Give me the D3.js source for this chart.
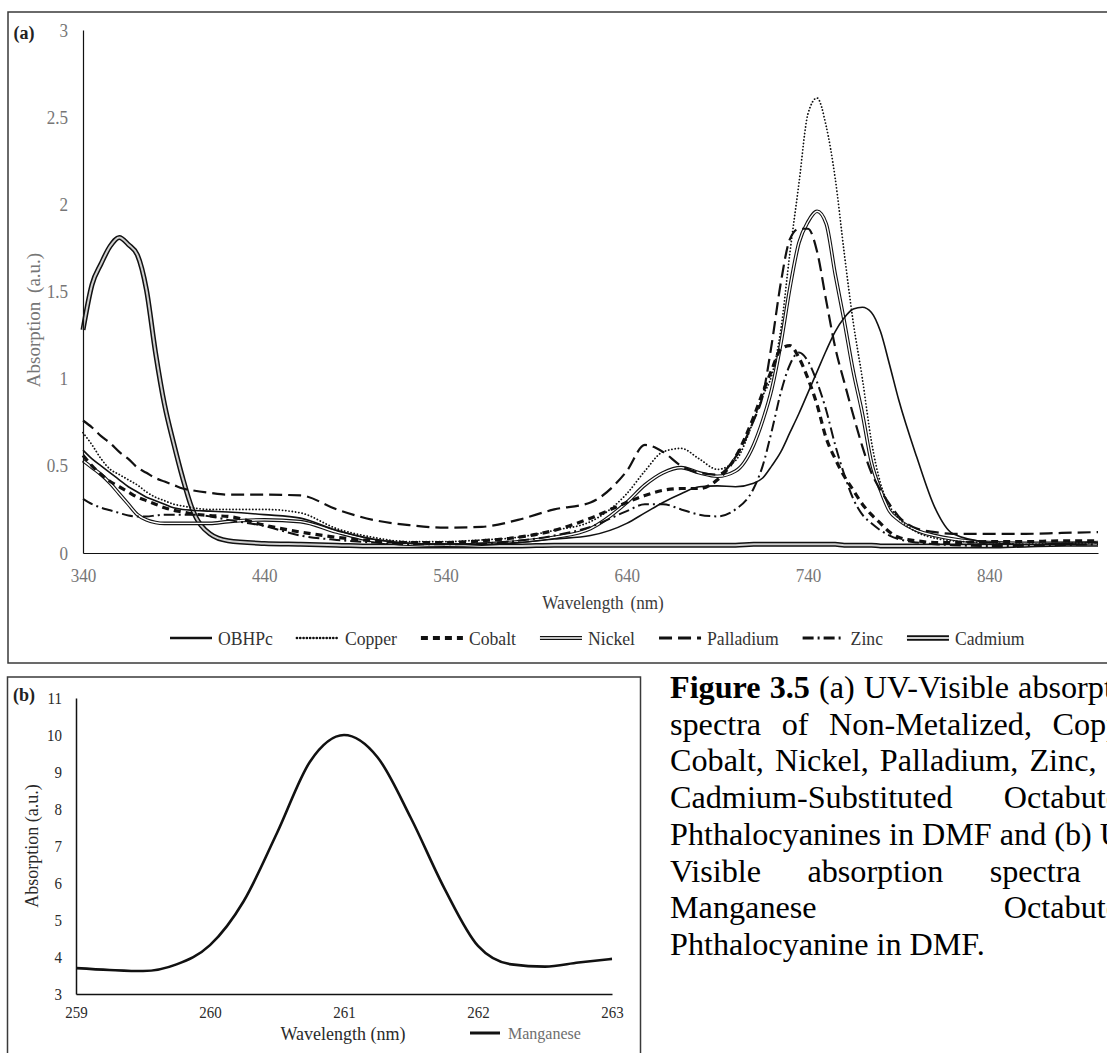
<!DOCTYPE html>
<html lang="en">
<head>
<meta charset="UTF-8">
<title>Figure 3.5 - UV-Visible absorption spectra</title>
<script src="https://d3js.org/d3.v7.min.js"></script>
<style>
  body { margin: 0; background: #fff; }
  svg { display: block; font-family: "Liberation Serif", "Times New Roman", serif; }
</style>
</head>
<body>
<svg id="fig" width="1107" height="1053"></svg>
<script>
// ---- panel (a): absorption of the octabutoxy phthalocyanines ----
const wavelengths = [340, 345, 350, 355, 360, 365, 370, 375, 380, 385, 390, 395, 400, 410, 420, 440, 460, 480, 500, 520,
                     540, 560, 580, 600, 620, 640, 650, 660, 670, 680, 690, 700, 710, 715, 720, 725, 730, 735, 740, 745,
                     750, 755, 760, 765, 770, 775, 780, 785, 790, 800, 810, 820, 840, 860, 880, 900];

const obhpc     = [0.59, 0.54, 0.50, 0.46, 0.42, 0.38, 0.35, 0.32, 0.30, 0.28, 0.26, 0.25, 0.245, 0.24, 0.235, 0.22, 0.20, 0.13, 0.08, 0.055,
                   0.05, 0.05, 0.06, 0.08, 0.10, 0.17, 0.23, 0.29, 0.34, 0.38, 0.385, 0.38, 0.40, 0.43, 0.50, 0.58, 0.69, 0.80, 0.92, 1.04,
                   1.16, 1.27, 1.35, 1.40, 1.41, 1.38, 1.27, 1.08, 0.88, 0.55, 0.26, 0.11, 0.06, 0.05, 0.055, 0.06];
const copper    = [0.69, 0.62, 0.54, 0.48, 0.45, 0.42, 0.39, 0.35, 0.32, 0.30, 0.28, 0.27, 0.26, 0.25, 0.25, 0.25, 0.23, 0.14, 0.09, 0.065,
                   0.065, 0.075, 0.09, 0.13, 0.18, 0.34, 0.47, 0.58, 0.60, 0.54, 0.48, 0.53, 0.76, 0.90, 1.02, 1.28, 1.72, 2.12, 2.52, 2.61,
                   2.45, 2.15, 1.72, 1.32, 1.00, 0.64, 0.40, 0.27, 0.20, 0.12, 0.085, 0.07, 0.06, 0.05, 0.055, 0.06];
const cobalt    = [0.56, 0.50, 0.45, 0.41, 0.38, 0.35, 0.32, 0.30, 0.28, 0.26, 0.245, 0.235, 0.225, 0.215, 0.21, 0.16, 0.12, 0.09, 0.07, 0.06,
                   0.06, 0.07, 0.09, 0.13, 0.20, 0.29, 0.33, 0.36, 0.37, 0.37, 0.42, 0.55, 0.78, 0.92, 1.05, 1.17, 1.19, 1.12, 1.00, 0.85,
                   0.66, 0.54, 0.44, 0.36, 0.28, 0.22, 0.17, 0.12, 0.09, 0.07, 0.06, 0.06, 0.065, 0.065, 0.07, 0.07];
const nickel    = [0.53, 0.49, 0.45, 0.40, 0.34, 0.28, 0.22, 0.19, 0.175, 0.17, 0.17, 0.17, 0.17, 0.17, 0.18, 0.19, 0.18, 0.12, 0.07, 0.05,
                   0.045, 0.05, 0.065, 0.09, 0.14, 0.29, 0.39, 0.46, 0.49, 0.46, 0.44, 0.47, 0.62, 0.76, 0.94, 1.20, 1.52, 1.78, 1.90, 1.96,
                   1.89, 1.60, 1.33, 1.04, 0.80, 0.52, 0.36, 0.24, 0.19, 0.13, 0.10, 0.08, 0.06, 0.055, 0.055, 0.06];
const palladium = [0.76, 0.72, 0.67, 0.63, 0.58, 0.54, 0.49, 0.46, 0.43, 0.41, 0.39, 0.37, 0.36, 0.345, 0.335, 0.335, 0.33, 0.25, 0.19, 0.16,
                   0.145, 0.15, 0.19, 0.25, 0.29, 0.47, 0.62, 0.58, 0.50, 0.46, 0.45, 0.55, 0.76, 0.90, 1.20, 1.55, 1.80, 1.86, 1.86, 1.73,
                   1.45, 1.18, 0.98, 0.79, 0.61, 0.46, 0.36, 0.28, 0.21, 0.14, 0.12, 0.11, 0.11, 0.11, 0.115, 0.12];
const zinc      = [0.31, 0.28, 0.26, 0.245, 0.23, 0.215, 0.21, 0.21, 0.215, 0.22, 0.22, 0.22, 0.22, 0.21, 0.19, 0.155, 0.10, 0.075, 0.06, 0.05,
                   0.05, 0.055, 0.07, 0.10, 0.15, 0.24, 0.28, 0.28, 0.25, 0.22, 0.21, 0.25, 0.37, 0.50, 0.70, 0.92, 1.08, 1.15, 1.10, 0.98,
                   0.82, 0.62, 0.45, 0.31, 0.22, 0.17, 0.13, 0.10, 0.08, 0.06, 0.05, 0.045, 0.04, 0.04, 0.045, 0.05];
const cadmium   = [1.28, 1.54, 1.66, 1.76, 1.81, 1.77, 1.71, 1.51, 1.15, 0.85, 0.63, 0.43, 0.26, 0.11, 0.07, 0.055, 0.05, 0.045, 0.04, 0.04,
                   0.04, 0.04, 0.04, 0.045, 0.045, 0.045, 0.045, 0.045, 0.045, 0.045, 0.045, 0.045, 0.05, 0.05, 0.05, 0.05, 0.05, 0.05, 0.05, 0.05,
                   0.05, 0.05, 0.045, 0.045, 0.045, 0.045, 0.04, 0.04, 0.04, 0.04, 0.04, 0.04, 0.04, 0.045, 0.05, 0.05];

const seriesNames = ["OBHPc", "Copper", "Cobalt", "Nickel", "Palladium", "Zinc", "Cadmium"];
const seriesValues = [obhpc, copper, cobalt, nickel, palladium, zinc, cadmium];
const xTicksA = [340, 440, 540, 640, 740, 840];
const yTicksA = [0, 0.5, 1, 1.5, 2, 2.5, 3];

// ---- panel (b): manganese ----
const mnWavelengths = [259, 259.25, 259.5, 259.75, 260, 260.25, 260.5, 260.75, 261, 261.25, 261.5, 261.75, 262, 262.25, 262.5, 262.75, 263];
const manganese     = [3.70, 3.65, 3.62, 3.80, 4.32, 5.50, 7.35, 9.30, 10.0, 9.40, 7.75, 5.85, 4.30, 3.80, 3.74, 3.85, 3.95];
const xTicksB = [259, 260, 261, 262, 263];
const yTicksB = [3, 4, 5, 6, 7, 8, 9, 10, 11];

// ---- caption ----
const captionLines = [
  "Figure 3.5 (a) UV-Visible absorption",
  "spectra of Non-Metalized, Copper,",
  "Cobalt, Nickel, Palladium, Zinc, and",
  "Cadmium-Substituted Octabutoxy",
  "Phthalocyanines in DMF and (b) UV-",
  "Visible absorption spectra of",
  "Manganese Octabutoxy",
  "Phthalocyanine in DMF."
];
const captionBold = ["Figure", "3.5"];

// line styles (Excel black & white patterns)
const styles = {
  OBHPc:     {w: 1.6},
  Copper:    {w: 1.8, dash: "0.1,3.2", cap: "round"},
  Cobalt:    {w: 3.2, dash: "7,5"},
  Nickel:    {w: 3.6, inner: 1.4, innerColor: "#fff"},
  Palladium: {w: 2.2, dash: "13,6"},
  Zinc:      {w: 2, dash: "11,4,2,4"},
  Cadmium:   {w: 5, inner: 2, innerColor: "#cfcfcf"}
};

const svg = d3.select("#fig");
const sxA = 0.9, sxB = 0.88;

function strokeLike(sel, st, outer) {
  sel.attr("fill", "none")
     .attr("stroke", outer ? "#111" : st.innerColor)
     .attr("stroke-width", outer ? st.w : st.inner)
     .attr("stroke-linejoin", "round");
  if (outer && st.dash) sel.attr("stroke-dasharray", st.dash);
  if (outer && st.cap) sel.attr("stroke-linecap", st.cap);
}

function styleAxis(ax, size, color, k, domainWidth) {
  ax.attr("font-family", null).attr("font-size", size);
  ax.select(".domain").attr("stroke", "#111").attr("stroke-width", domainWidth);
  ax.selectAll("text").attr("fill", color).attr("transform", `scale(${k},1)`);
}

// ================= panel (a) =================
svg.append("rect").attr("x", 8).attr("y", 12).attr("width", 1200).attr("height", 651)
   .attr("fill", "none").attr("stroke", "#3a3a3a").attr("stroke-width", 1.5);

const xA = d3.scaleLinear().domain([340, 900]).range([83, 1098]);
const yA = d3.scaleLinear().domain([0, 3]).range([553, 30]);

const lineA = d3.line()
  .x((d, i) => xA(wavelengths[i]))
  .y(d => yA(d))
  .curve(d3.curveMonotoneX);

const plotA = svg.append("g");
const drawOrder = ["Cadmium", "Nickel", "OBHPc", "Copper", "Cobalt", "Palladium", "Zinc"];
drawOrder.forEach(name => {
  const vals = seriesValues[seriesNames.indexOf(name)];
  const st = styles[name];
  strokeLike(plotA.append("path").attr("d", lineA(vals)), st, true);
  if (st.inner) strokeLike(plotA.append("path").attr("d", lineA(vals)), st, false);
});

const axA_x = svg.append("g").attr("transform", "translate(0,553)")
  .call(d3.axisBottom(xA).tickValues(xTicksA).tickSize(0).tickSizeOuter(0).tickPadding(16).tickFormat(d3.format("d")));
const axA_y = svg.append("g").attr("transform", "translate(83,0)")
  .call(d3.axisLeft(yA).tickValues(yTicksA).tickSize(0).tickSizeOuter(0).tickPadding(15).tickFormat(d => String(d)));
styleAxis(axA_x, 19, "#767676", sxA, 1.2);
styleAxis(axA_y, 19, "#767676", sxA, 1.2);
axA_y.selectAll("text").attr("x", -15 / sxA);

svg.append("text").attr("transform", "translate(24,33)")
   .attr("dy", "0.35em").attr("text-anchor", "middle")
   .attr("font-size", 18).attr("font-weight", "bold").attr("fill", "#222").text("(a)");

svg.append("text").attr("transform", "translate(33,320) rotate(-90)")
   .attr("dy", "0.35em").attr("text-anchor", "middle")
   .attr("font-size", 19).attr("fill", "#767676").attr("word-spacing", 4).text("Absorption (a.u.)");

svg.append("text").attr("transform", `translate(603,602) scale(${sxA},1)`)
   .attr("dy", "0.35em").attr("text-anchor", "middle")
   .attr("font-size", 19).attr("fill", "#3a3a3a").attr("word-spacing", 3).text("Wavelength (nm)");

// legend (a)
const legendA = svg.append("g");
let lx = 170;
seriesNames.forEach(name => {
  const st = styles[name];
  const ly = 638;
  const sym = d3.line()([[lx, ly], [lx + 42, ly]]);
  const lw = Object.assign({}, st, {w: st.inner ? st.w + 0.6 : st.w + 0.8});
  strokeLike(legendA.append("path").attr("d", sym), lw, true);
  if (st.inner) strokeLike(legendA.append("path").attr("d", sym), st, false);
  const t = legendA.append("text").attr("transform", `translate(${lx + 48},${ly}) scale(0.93,1)`)
    .attr("dy", "0.35em").attr("font-size", 19).attr("fill", "#333").text(name);
  lx += 48 + t.node().getComputedTextLength() * 0.93 + 24;
});

// ================= panel (b) =================
svg.append("rect").attr("x", 7.5).attr("y", 677).attr("width", 633).attr("height", 420)
   .attr("fill", "none").attr("stroke", "#3a3a3a").attr("stroke-width", 1.5);

const xB = d3.scaleLinear().domain([259, 263]).range([76, 612]);
const yB = d3.scaleLinear().domain([3, 11]).range([994, 698]);

const lineB = d3.line()
  .x((d, i) => xB(mnWavelengths[i]))
  .y(d => yB(d))
  .curve(d3.curveMonotoneX);

svg.append("path").attr("d", lineB(manganese))
   .attr("fill", "none").attr("stroke", "#111").attr("stroke-width", 2.6).attr("stroke-linejoin", "round");

const axB_x = svg.append("g").attr("transform", "translate(0,994)")
  .call(d3.axisBottom(xB).tickValues(xTicksB).tickSize(0).tickSizeOuter(0).tickPadding(12).tickFormat(d3.format("d")));
const axB_y = svg.append("g").attr("transform", "translate(76,0)")
  .call(d3.axisLeft(yB).tickValues(yTicksB).tickSize(0).tickSizeOuter(0).tickPadding(14).tickFormat(d3.format("d")));
styleAxis(axB_x, 17, "#2a2a2a", sxB, 1.5);
styleAxis(axB_y, 17, "#2a2a2a", sxB, 1.5);
axB_y.selectAll("text").attr("x", -14 / sxB);

svg.append("text").attr("transform", "translate(24,695)")
   .attr("dy", "0.35em").attr("text-anchor", "middle")
   .attr("font-size", 18).attr("font-weight", "bold").attr("fill", "#222").text("(b)");

svg.append("text").attr("transform", "translate(32,846) rotate(-90)")
   .attr("dy", "0.35em").attr("text-anchor", "middle")
   .attr("font-size", 18).attr("fill", "#2a2a2a").text("Absorption (a.u.)");

svg.append("text").attr("transform", "translate(343,1034)")
   .attr("dy", "0.35em").attr("text-anchor", "middle")
   .attr("font-size", 18).attr("fill", "#2a2a2a").text("Wavelength (nm)");

svg.append("line").attr("x1", 470).attr("x2", 500).attr("y1", 1033).attr("y2", 1033)
   .attr("stroke", "#111").attr("stroke-width", 3);
svg.append("text").attr("transform", "translate(508,1033)")
   .attr("dy", "0.35em").attr("font-size", 16).attr("fill", "#6e6e6e").text("Manganese");

// ================= caption (justified, runs past the right edge as in the source page) =================
const capLeft = 670, capRight = 1154, capTop = 698, capLead = 36.7;
const cap = svg.append("g").attr("font-size", 32.2).attr("fill", "#000");
captionLines.forEach((ln, li) => {
  const words = ln.split(" ");
  const y = capTop + li * capLead;
  const nodes = words.map((w, wi) => cap.append("text")
    .attr("y", y)
    .attr("font-weight", li === 0 && captionBold.includes(w) && wi < 2 ? "bold" : null)
    .text(w));
  const widths = nodes.map(n => n.node().getComputedTextLength());
  const total = d3.sum(widths);
  const last = li === captionLines.length - 1;
  const gap = last || words.length < 2 ? 8 : (capRight - capLeft - total) / (words.length - 1);
  let cx = capLeft;
  nodes.forEach((n, i) => { n.attr("x", cx); cx += widths[i] + gap; });
});
</script>
</body>
</html>
